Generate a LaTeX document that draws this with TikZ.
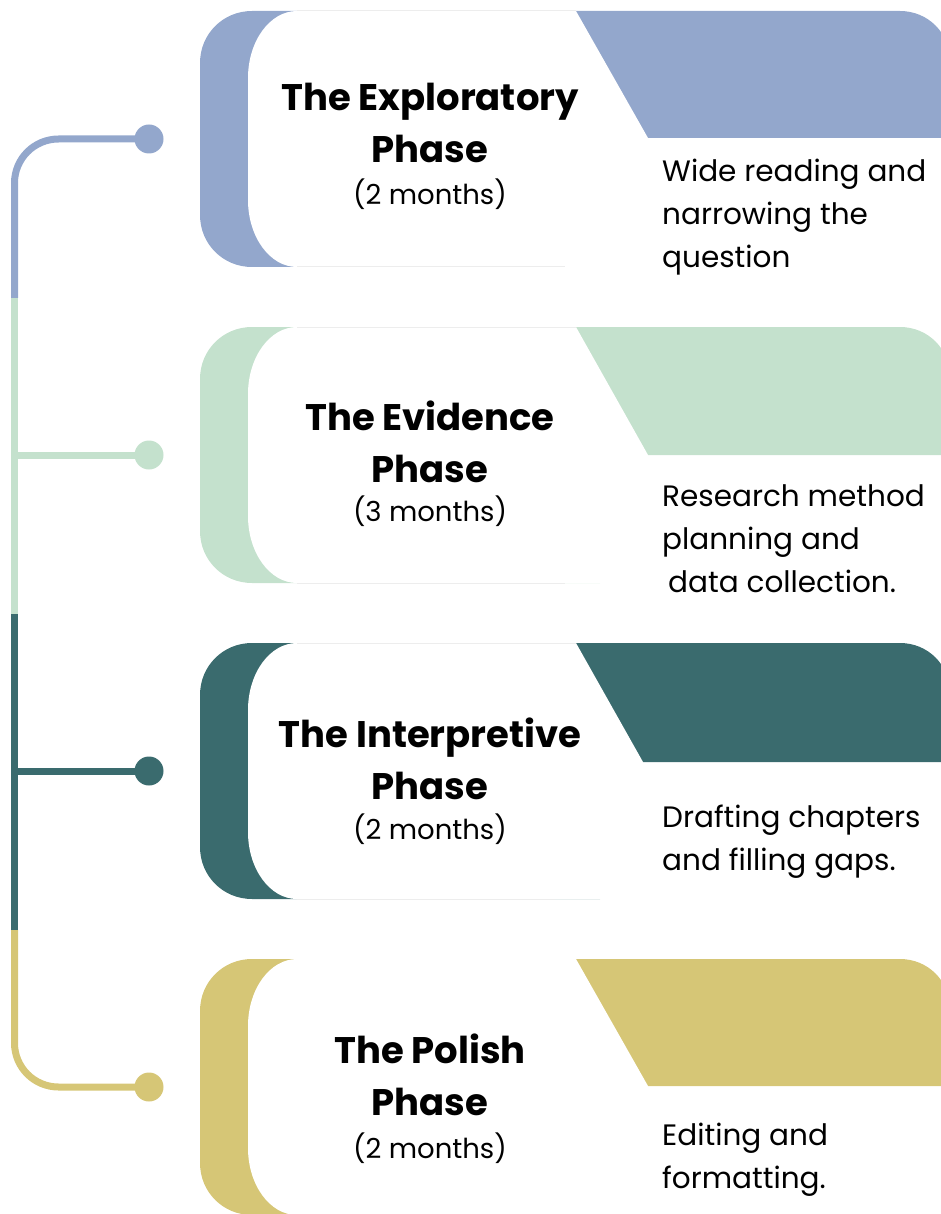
\documentclass[tikz,border=0pt]{standalone}
\usepackage{fontspec}
\setmainfont{Poppins}
\usepackage{tikz}
\usetikzlibrary{positioning}
\definecolor{phaseblue}{RGB}{147,167,204}
\definecolor{phasegreen}{RGB}{196,225,205}
\definecolor{phaseteal}{RGB}{58,107,110}
\definecolor{phasegold}{RGB}{214,198,118}

\begin{document}
\begin{tikzpicture}[
  x=1pt, y=-1pt,
  card/.style={fill=white},
  rim/.style={draw=black!7, line width=1pt},
  track/.style={line width=7pt, draw=#1},
  dot/.style={circle, fill=#1, minimum size=29pt, inner sep=0pt},
  title/.style={font=\fontsize{37}{52}\selectfont\bfseries, align=center, anchor=base, inner sep=0pt},
  months/.style={font=\fontsize{27.5}{30}\selectfont, anchor=base, inner sep=0pt},
  desc/.style={font=\fontsize{29.5}{43}\selectfont, align=left, anchor=base west, inner sep=0pt}
]
  \useasboundingbox (0,0) rectangle (941,1214);
  \clip (0,0) rectangle (941,1214);

  % phase cards: coloured tab behind, white card on top
  \begin{scope}[shift={(0,11)}]
    \fill[phaseblue] (200,52) .. controls (200,23) and (223,0) .. (252,0) -- (900,0)
      .. controls (928,0) and (950,22) .. (950,50) -- (950,127) -- (600,127) -- (600,256)
      -- (252,256) .. controls (223,256) and (200,233) .. (200,204) -- cycle;
    \fill[card] (248,67) .. controls (248,30) and (270,0) .. (297,0) -- (576,0) -- (648,127)
      -- (648,256) -- (297,256) .. controls (270,256) and (248,226) .. (248,189) -- cycle;
    \draw[rim] (297,0) -- (576,0) (297,256) -- (565,256);
  \end{scope}
  \begin{scope}[shift={(0,327)}]
    \fill[phasegreen] (200,52) .. controls (200,23) and (223,0) .. (252,0) -- (900,0)
      .. controls (928,0) and (950,22) .. (950,50) -- (950,128) -- (600,128) -- (600,256)
      -- (252,256) .. controls (223,256) and (200,233) .. (200,204) -- cycle;
    \fill[card] (248,67) .. controls (248,30) and (270,0) .. (297,0) -- (576,0) -- (648,128)
      -- (648,256) -- (297,256) .. controls (270,256) and (248,226) .. (248,189) -- cycle;
    \draw[rim] (297,0) -- (576,0) (297,256) -- (565,256);
  \end{scope}
  \begin{scope}[shift={(0,643)}]
    \fill[phaseteal] (200,52) .. controls (200,23) and (223,0) .. (252,0) -- (900,0)
      .. controls (928,0) and (950,22) .. (950,50) -- (950,119) -- (600,119) -- (600,256)
      -- (252,256) .. controls (223,256) and (200,233) .. (200,204) -- cycle;
    \fill[card] (248,67) .. controls (248,30) and (270,0) .. (297,0) -- (576,0) -- (643,119)
      -- (643,256) -- (297,256) .. controls (270,256) and (248,226) .. (248,189) -- cycle;
    \draw[rim] (297,0) -- (576,0) (297,256) -- (555,256);
  \end{scope}
  \begin{scope}[shift={(0,959)}]
    \fill[phasegold] (200,52) .. controls (200,23) and (223,0) .. (252,0) -- (900,0)
      .. controls (928,0) and (950,22) .. (950,50) -- (950,127) -- (600,127) -- (600,256)
      -- (252,256) .. controls (223,256) and (200,233) .. (200,204) -- cycle;
    \fill[card] (248,67) .. controls (248,30) and (270,0) .. (297,0) -- (576,0) -- (648,127)
      -- (648,256) -- (297,256) .. controls (270,256) and (248,226) .. (248,189) -- cycle;
  \end{scope}

  % timeline
  \node[dot=phaseblue] (dot1) at (149,139) {};
  \node[dot=phasegreen] (dot2) at (149,455) {};
  \node[dot=phaseteal] (dot3) at (149,771) {};
  \node[dot=phasegold] (dot4) at (149,1087) {};
  \coordinate (j1) at (14.5,139);
  \coordinate (j2) at (14.5,455);
  \coordinate (j3) at (14.5,771);
  \coordinate (j4) at (14.5,1087);
  \coordinate (s1) at (14.5,298);
  \coordinate (s2) at (14.5,614);
  \coordinate (s3) at (14.5,930);

  \draw[track=phaseblue, rounded corners=44pt] (dot1.center) -- (j1) -- (s1);
  \draw[track=phasegreen] (s1) -- (s2) (j2) -- (dot2.center);
  \draw[track=phaseteal] (s2) -- (s3) (j3) -- (dot3.center);
  \draw[track=phasegold, rounded corners=44pt] (s3) -- (j4) -- (dot4.center);

  % phase names (base = last line)
  \node[title] (t1) at (430,163) {The Exploratory\\Phase};
  \node[months] (m1) at (430,205) {(2 months)};
  \node[title] (t2) at (430,482) {The Evidence\\Phase};
  \node[months] (m2) at (430,521) {(3 months)};
  \node[title] (t3) at (430,799) {The Interpretive\\Phase};
  \node[months] (m3) at (430,839) {(2 months)};
  \node[title] (t4) at (430,1115) {The Polish\\Phase};
  \node[months] (m4) at (430,1158) {(2 months)};

  % what happens in each phase
  \node[desc] (d1) at (662,268) {Wide reading and\\narrowing the\\question};
  \node[desc] (d2) at (662,592) {Research method\\planning and\\\hspace{6pt}data collection.};
  \node[desc] (d3) at (662,870) {Drafting chapters\\and filling gaps.};
  \node[desc] (d4) at (662,1188) {Editing and\\formatting.};
\end{tikzpicture}
\end{document}
